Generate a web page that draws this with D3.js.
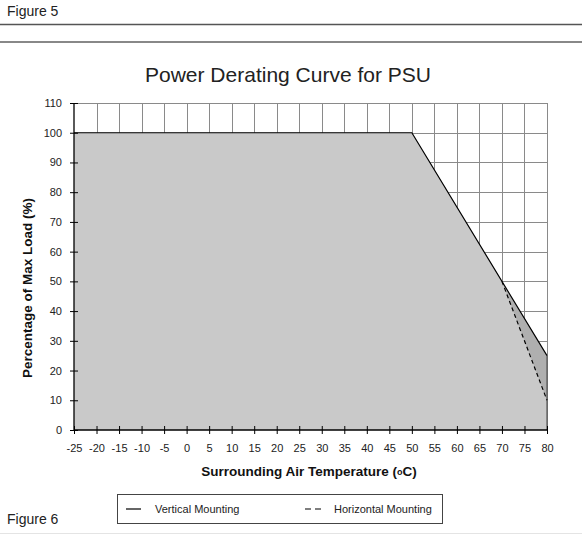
<!DOCTYPE html>
<html><head><meta charset="utf-8">
<script src="https://cdn.jsdelivr.net/npm/d3@7"></script>
<style>body{margin:0;background:#fff}svg{display:block;font-family:"Liberation Sans",Arial,sans-serif}</style>
</head><body>
<script>
const xTicks = [-25,-20,-15,-10,-5,0,5,10,15,20,25,30,35,40,45,50,55,60,65,70,75,80];
const yTicks = [0,10,20,30,40,50,60,70,80,90,100,110];
const verticalTemp = [-25, 50, 80];
const verticalLoad = [100, 100, 25];
const horizontalTemp = [-25, 50, 70, 80];
const horizontalLoad = [100, 100, 50, 10];
const title = "Power Derating Curve for PSU";
const seriesNames = ["Vertical Mounting", "Horizontal Mounting"];

const W = 582, H = 537;
const svg = d3.select("body").append("svg").attr("width", W).attr("height", H);
const x = d3.scaleLinear().domain([-25, 80]).range([74, 547]);
const y = d3.scaleLinear().domain([0, 110]).range([430, 103]);

const vert = verticalTemp.map((t,i)=>[t, verticalLoad[i]]);
const hor = horizontalTemp.map((t,i)=>[t, horizontalLoad[i]]);

// page decorations
svg.append("text").attr("x",7).attr("y",16).attr("font-size",14).attr("fill","#222").text("Figure 5");
svg.append("line").attr("x1",0).attr("x2",W).attr("y1",24.5).attr("y2",24.5).attr("stroke","#555").attr("stroke-width",1.3);
svg.append("line").attr("x1",0).attr("x2",W).attr("y1",42).attr("y2",42).attr("stroke","#888").attr("stroke-width",2);
svg.append("line").attr("x1",0).attr("x2",W).attr("y1",533.5).attr("y2",533.5).attr("stroke","#e4e4e4").attr("stroke-width",1);
svg.append("text").attr("x",7).attr("y",524).attr("font-size",14).attr("fill","#222").text("Figure 6");

// grid
const g = svg.append("g");
g.selectAll(".vg").data(xTicks.slice(1)).join("line")
  .attr("x1",d=>Math.round(x(d))+0.5).attr("x2",d=>Math.round(x(d))+0.5)
  .attr("y1",y(110)).attr("y2",y(0)).attr("stroke","#8a8a8a").attr("stroke-width",1);
g.selectAll(".hg").data(yTicks.slice(1)).join("line")
  .attr("x1",x(-25)).attr("x2",x(80))
  .attr("y1",d=>Math.round(y(d))+0.5).attr("y2",d=>Math.round(y(d))+0.5).attr("stroke","#8a8a8a").attr("stroke-width",1);

// areas
const area = d3.area().x(d=>x(d[0])).y0(y(0)).y1(d=>y(d[1]));
g.append("path").datum(vert).attr("d",area).attr("fill","#afafaf");
g.append("path").datum(hor).attr("d",area).attr("fill","#c9c9c9");

// right edge of filled area
g.append("line").attr("x1",x(80)).attr("x2",x(80)).attr("y1",y(0)).attr("y2",y(verticalLoad[2]))
  .attr("stroke","#555").attr("stroke-width",1.2);

// lines
const line = d3.line().x(d=>x(d[0])).y(d=>y(d[1]));
g.append("path").datum(vert).attr("d",line).attr("fill","none").attr("stroke","#000").attr("stroke-width",1.2);
g.append("path").datum(hor.slice(2)).attr("d",line).attr("fill","none").attr("stroke","#000").attr("stroke-width",1.2).attr("stroke-dasharray","4,3");

// axes
const xAxis = d3.axisBottom(x).tickValues(xTicks).tickSize(4).tickPadding(10).tickFormat(d=>String(d));
const ax = svg.append("g").attr("transform",`translate(0,${y(0)})`).call(xAxis);
ax.select(".domain").remove();
ax.append("line").attr("x1",x(-25)).attr("x2",x(80)).attr("stroke","#000").attr("stroke-width",1.3);
ax.selectAll(".tick line").attr("y1",-4).attr("y2",4).attr("stroke","#000");
ax.selectAll(".tick text").attr("font-size",11).attr("fill","#222").attr("font-family","Liberation Sans, Arial, sans-serif");

const yAxis = d3.axisLeft(y).tickValues(yTicks).tickSize(4).tickPadding(8).tickFormat(d=>String(d));
const ay = svg.append("g").attr("transform",`translate(${x(-25)},0)`).call(yAxis);
ay.select(".domain").remove();
ay.append("line").attr("y1",y(0)).attr("y2",y(110)).attr("stroke","#000").attr("stroke-width",1.3);
ay.selectAll(".tick line").attr("x1",-4).attr("x2",4).attr("stroke","#000");
ay.selectAll(".tick text").attr("font-size",11).attr("fill","#222").attr("font-family","Liberation Sans, Arial, sans-serif");

// title & labels
svg.append("text").attr("x",288).attr("y",82).attr("text-anchor","middle").attr("font-size",21).attr("fill","#222").text(title);
const xl = svg.append("text").attr("x",309).attr("y",476).attr("text-anchor","middle").attr("font-size",13.5).attr("font-weight","bold").attr("fill","#111");
xl.append("tspan").text("Surrounding Air Temperature (");
xl.append("tspan").attr("font-size",9).attr("dy",-1).text("o");
xl.append("tspan").attr("dy",1).text("C)");
svg.append("text").attr("transform","translate(32,288) rotate(-90)").attr("text-anchor","middle").attr("font-size",13.5).attr("font-weight","bold").attr("fill","#111").text("Percentage of Max Load (%)");

// legend
const lg = svg.append("g");
lg.append("rect").attr("x",117.5).attr("y",494.5).attr("width",325).attr("height",29).attr("fill","#fff").attr("stroke","#444").attr("stroke-width",1);
lg.append("line").attr("x1",126).attr("x2",141).attr("y1",509).attr("y2",509).attr("stroke","#000").attr("stroke-width",1.2);
lg.append("text").attr("x",155).attr("y",513).attr("font-size",11).attr("fill","#222").text(seriesNames[0]);
lg.append("line").attr("x1",305).attr("x2",321).attr("y1",509).attr("y2",509).attr("stroke","#000").attr("stroke-width",1.2).attr("stroke-dasharray","6,4");
lg.append("text").attr("x",334).attr("y",513).attr("font-size",11).attr("fill","#222").text(seriesNames[1]);
</script>
</body></html>
